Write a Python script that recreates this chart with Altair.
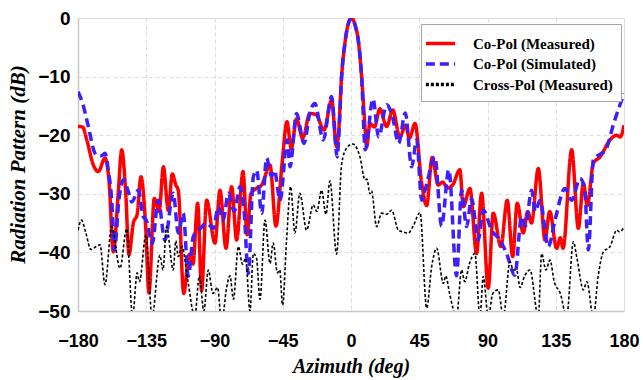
import altair as alt
import pandas as pd

series_names = ["Co-Pol (Measured)", "Co-Pol (Simulated)", "Cross-Pol (Measured)"]

red_deg = [-180, -177, -174, -170, -166.6, -162.2, -159.5, -156.7, -153.5, -151.2, -148.5, -146.4,
           -143.5, -141, -138.5, -135.5, -133.2, -129.7, -126.5, -123.7, -120.5, -117.8, -115.5,
           -113.9, -110.3, -106.6, -104.2, -101.1, -98.5, -95.2, -89.7, -86.4, -82.4, -78.7, -75.4,
           -71.2, -68.5, -66, -62, -58.9, -53.4, -49.5, -45.5, -42.2, -39.4, -35.9, -31.9, -27.1,
           -23, -17.8, -12.8, -9.5, -8.4, -6.2, -4, -2, 0.4, 3, 4.8, 7, 9.2, 10.3, 12.5, 15.5, 19,
           23.5, 27.5, 32.2, 36, 38.5, 42.2, 46.5, 49.9, 53.5, 57.5, 60.5, 63.5, 67, 71.8, 74, 78.4,
           82.8, 86.1, 90.5, 93.8, 98.8, 103, 106.6, 109.6, 113.6, 116.5, 119, 123.5, 127.9, 131,
           135.6, 138, 139.8, 145.5, 149.9, 153.2, 155.8, 159.8, 164.2, 170.8, 175.2, 177.5, 180]
red_db = [-18.5, -18.6, -21, -25, -26.2, -23.9, -28, -39.9, -30, -22.5, -30, -40.4,
          -35, -33.5, -27.1, -35, -46.9, -30.8, -33, -25.4, -32.8, -26.6, -28.5,
          -29.4, -47, -40.3, -42, -31.6, -46.5, -31.1, -38.4, -29.4, -39.3, -28.8, -37.9,
          -26.2, -37, -30, -29, -28.5, -25.1, -35.5, -25, -17.7, -22.3, -17.2, -20.5, -16.3,
          -16.5, -19.1, -14, -22, -20.3, -10, -4.3, -1.2, 0, -1.5, -3.8, -10, -18.5, -22, -18, -18.6, -15.5,
          -18.5, -15.7, -20.3, -18.3, -20.5, -18, -28, -32, -23.8, -28.5, -28, -29, -28.5, -25.9, -32.2, -29.1,
          -40.2, -29.9, -46.1, -33.3, -39, -31.1, -40.7, -31.6, -36.7, -33, -35, -25.7, -37.9, -33,
          -39.3, -37.5, -39.3, -22.5, -35.9, -28.2, -32, -24.8, -23.7, -20.8, -20, -20.3, -18.3]

blue_deg = [-180, -177, -173.2, -169, -167.7, -164.5, -162.2, -160, -157.8, -156, -153, -150.1, -147,
            -144.5, -140.2, -137, -135, -131, -127.1, -122.7, -117.2, -113.9, -110.6, -107.3, -104,
            -99.6, -95.2, -90.8, -87.5, -84.2, -80.9, -77, -73.2, -70.5, -67.7, -64.4, -62.2, -58.9,
            -55.6, -52.5, -50.5, -46.8, -42, -40.2, -35.9, -31, -27, -23.8, -18.3, -12.8, -9.1, -8,
            -6.2, -4, -2, 0.4, 3, 4.8, 7, 9.4, 14.5, 18.2, 23.5, 27.5, 31.4, 35.8, 40, 43.3, 46.6,
            49.5, 55.3, 59.7, 64.5, 69.6, 72.9, 76.2, 79.5, 83.9, 87.2, 92.7, 98.2, 102.6, 108, 112.5,
            115, 119.1, 121.5, 124.6, 130.1, 134.5, 141.1, 145.5, 151, 154, 156.5, 159.8, 165.2, 168,
            173.2, 180]
blue_db = [-12.6, -14.5, -18.5, -23, -23.4, -23.5, -23.1, -26, -31, -39.6, -31, -27.6, -29.5,
           -31.4, -29.4, -33.9, -34.5, -38.5, -31.1, -37.9, -29.9, -36.7, -33.3, -44.1, -37.3,
           -36, -35, -35.9, -32.2, -34.5, -29.9, -33, -28.8, -33, -43.6, -27.1, -26, -33.3,
           -23.9, -27, -26, -31.1, -20.8, -25.4, -16.3, -21.4, -16, -14.6, -20.8, -13.4, -23.7, -20,
           -10, -4.3, -1.2, 0, -1.5, -3.8, -10, -22.5, -13.8, -20.3, -14.8, -17, -21.4, -16.2, -25.4, -20.8, -31.1,
           -28.7, -23.7, -35.5, -25.9, -44, -29.4, -35.6, -30.8, -37.9, -32.8, -36.2, -37.9, -40.2, -43.9, -33.9,
           -35.5, -29.4, -33, -31.1, -39, -34.5, -29.1, -31.1, -27.4, -29, -39.6, -24.2, -23.1, -22.5,
           -18, -12.9]

black_deg = [-180, -177.7, -175, -171.5, -168, -165.5, -162.2, -157.8, -152.3, -147.9, -144, -141,
             -139.5, -135.2, -131.2, -126, -124, -121.6, -117.2, -115.5, -113.9, -111.5, -107.5,
             -103, -100, -97, -94.1, -91, -88, -85.3, -82, -79.8, -77.5, -74.3, -71.5, -69.5, -66.6,
             -64.4, -62.3, -60, -56.7, -53.4, -51.3, -48.5, -47, -45.1, -42.5, -39.8, -37, -33.7,
             -29.3, -24.9, -22.5, -19.4, -16.5, -13.9, -9.5, -6.2, -2.9, 1.2, 5.9, 9.2, 10.5, 12.5,
             13.5, 16.9, 20.2, 23.5, 26.8, 31.2, 34, 37.8, 41, 45.5, 49.9, 53.2, 56.5, 60.9, 62.5,
             65, 69.6, 72.9, 75, 78, 81.7, 85, 87.2, 90.5, 93.5, 97.1, 100.4, 104.8, 107, 109.2,
             111.5, 114.5, 118, 123.5, 125.7, 128.5, 131.2, 134, 138, 142.2, 146.6, 149, 153.2,
             155.5, 159.8, 163, 166.4, 170.8, 175.2, 177, 179.6]
black_db = [-36.2, -34.5, -36.5, -39.5, -39, -38.7, -45.5, -35.6, -42.7, -36, -51, -43.5,
            -45, -37, -51, -40.5, -43, -35.6, -43, -38, -40.7, -39, -45,
            -51, -44, -50, -43, -47, -46, -52, -46, -44, -48, -39, -42, -41, -50,
            -40.2, -41, -48, -34.5, -41.9, -38.4, -43.5, -43, -49, -38, -28.8, -36.7, -29.9,
            -36.2, -31.9, -33, -29.4, -33.5, -27.8, -40.3, -25, -22.2, -21.5, -23.7, -27.6, -27.5, -30,
            -29.5, -35.6, -33.3, -33.5, -32.8, -36.2, -36.5, -36.7, -35.5, -33.2, -49.5, -42.4, -39.3, -45.3, -44,
            -47, -51, -43, -45, -42, -40.2, -51, -44.1, -51, -47, -46.4, -51, -41.6, -43, -43,
            -46, -44, -43, -51, -40.2, -43, -41.3, -45, -47, -51, -38.2, -41, -46.4,
            -45, -51, -44, -39.9, -39, -36.2, -36.5, -35.9]

x_ticks = [-180, -135, -90, -45, 0, 45, 90, 135, 180]
y_ticks = [-50, -40, -30, -20, -10, 0]
line_widths = [3.5, 3.5, 1.6]

rows = []
for name, xs, ys in zip(series_names, [red_deg, blue_deg, black_deg], [red_db, blue_db, black_db]):
    for i, (a, b) in enumerate(zip(xs, ys)):
        rows.append({"series": name, "deg": a, "db": b, "i": i})
df = pd.DataFrame(rows)

legend = alt.Legend(
    title=None, orient="none", legendX=343, legendY=6, direction="vertical",
    symbolType="M-1.5,0H1.5", symbolSize=380, symbolStrokeWidth=3.5,
    labelFont="Liberation Serif", labelFontWeight="bold", labelFontSize=15, labelColor="black",
    labelOffset=21, rowPadding=0.5, padding=8, fillColor="white", strokeColor="#A6A6A6",
    labelLimit=300,
)

x_enc = alt.X("deg:Q", scale=alt.Scale(domain=[-180, 180], nice=False, zero=False),
              axis=alt.Axis(values=x_ticks, title="Azimuth (deg)", ticks=False, labelPadding=21,
                            labelFlush=False,
                            labelFont="Liberation Sans", labelFontWeight="bold", labelFontSize=18,
                            labelColor="black", titleFont="Liberation Serif", titleFontStyle="italic",
                            titleFontWeight="bold", titleFontSize=20, titleColor="black",
                            titleX=273, titleY=55, titleBaseline="middle",
                            grid=True, gridDash=[4, 3], gridColor="#DCDCDC",
                            domainColor="#C8C8C8", domainWidth=1.5))
y_enc = alt.Y("db:Q", scale=alt.Scale(domain=[-50, 0], nice=False, zero=False),
              axis=alt.Axis(values=y_ticks, title="Radiation Pattern (dB)", ticks=False, labelPadding=8,
                            labelFlush=False,
                            labelFont="Liberation Sans", labelFontWeight="bold", labelFontSize=19,
                            labelColor="black", titleFont="Liberation Serif", titleFontStyle="italic",
                            titleFontWeight="bold", titleFontSize=21, titleColor="black",
                            titleX=-60, titleY=146, titleBaseline="middle", titleAngle=-90,
                            grid=True, gridDash=[4, 3], gridColor="#DCDCDC",
                            domainColor="#C8C8C8", domainWidth=1.5))

base = alt.Chart(df).encode(
    x=x_enc,
    y=y_enc,
    color=alt.Color("series:N", scale=alt.Scale(domain=series_names, range=["#FF0000", "#3D1EFF", "#000000"]),
                    legend=legend),
    strokeDash=alt.StrokeDash("series:N", scale=alt.Scale(domain=series_names, range=[[1, 0], [9, 5], [3, 2]]),
                              legend=legend),
    order="i:Q",
)

layers = [
    base.transform_filter(alt.datum.series == name).mark_line(interpolate="monotone", clip=True, strokeWidth=w)
    for name, w in zip(series_names, line_widths)
]

chart = alt.layer(*layers).properties(
    width=546, height=293,
    autosize=alt.AutoSizeParams(type="none"),
    padding={"left": 78, "top": 18, "right": 19, "bottom": 69},
).configure_view(stroke=None).configure(background="white")

chart.save("out.html", embed_options={"renderer": "svg", "actions": False})
